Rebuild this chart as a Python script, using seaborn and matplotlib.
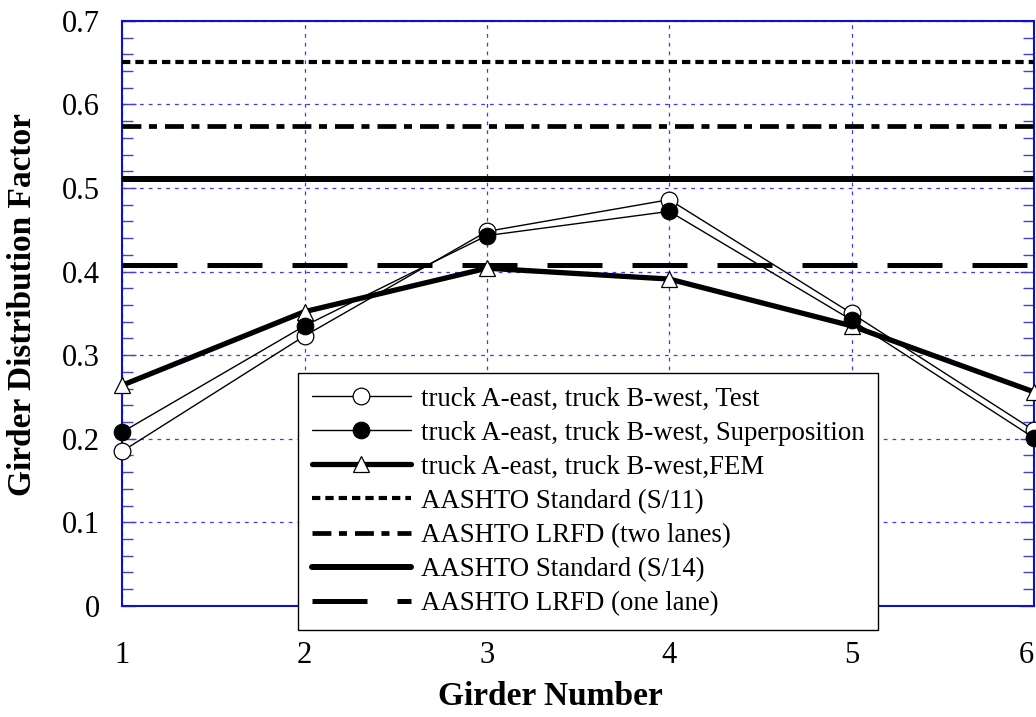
#!/usr/bin/env python3
import matplotlib
matplotlib.use("Agg")
import matplotlib.pyplot as plt
import seaborn as sns
import pandas as pd
from matplotlib.ticker import MultipleLocator

girders = [1, 2, 3, 4, 5, 6]
test = [0.185, 0.323, 0.448, 0.486, 0.350, 0.210]
superposition = [0.208, 0.335, 0.443, 0.472, 0.342, 0.201]
fem = [0.264, 0.352, 0.404, 0.391, 0.335, 0.256]

code_labels = ["AASHTO Standard (S/11)", "AASHTO LRFD (two lanes)",
               "AASHTO Standard (S/14)", "AASHTO LRFD (one lane)"]
code_values = [0.651, 0.574, 0.511, 0.408]

ytick_values = [0, 0.1, 0.2, 0.3, 0.4, 0.5, 0.6, 0.7]
ytick_labels = ["0", "0.1", "0.2", "0.3", "0.4", "0.5", "0.6", "0.7"]

sns.set_style("white")
plt.rcParams["font.family"] = ["Liberation Serif", "DejaVu Serif"]
plt.rcParams["text.color"] = "black"

df = pd.DataFrame({"girder": girders, "test": test, "sup": superposition, "fem": fem})

fig, ax = plt.subplots(figsize=(10.36, 7.17), dpi=100)
plt.subplots_adjust(left=0.118, right=0.998, top=0.971, bottom=0.155)

sns.lineplot(data=df, x="girder", y="test", ax=ax, color="black", lw=1.0,
             marker="o", markersize=12, markerfacecolor="white", markeredgecolor="black",
             markeredgewidth=0.9, label="truck A-east, truck B-west, Test", zorder=5, clip_on=False)
sns.lineplot(data=df, x="girder", y="sup", ax=ax, color="black", lw=1.0,
             marker="o", markersize=12, markerfacecolor="black", markeredgecolor="black",
             label="truck A-east, truck B-west, Superposition", zorder=5, clip_on=False)
sns.lineplot(data=df, x="girder", y="fem", ax=ax, color="black", lw=3.8,
             marker="^", markersize=12, markerfacecolor="white", markeredgecolor="black",
             markeredgewidth=0.9, label="truck A-east, truck B-west,FEM", zorder=4, clip_on=False)

styles = [dict(lw=3.0, dashes=(2.0, 1.2)),
          dict(lw=3.4, dashes=(4.0, 1.6, 1.7, 1.7)),
          dict(lw=4.3, linestyle="-"),
          dict(lw=3.6, dashes=(11, 6))]
for lab, val, st in zip(code_labels, code_values, styles):
    ax.axhline(val, color="black", label=lab, zorder=3, **st)

ax.set_xlim(1, 6)
ax.set_ylim(0, 0.7)
ax.set_yticks(ytick_values)
ax.set_yticklabels(ytick_labels)
ax.yaxis.set_minor_locator(MultipleLocator(0.02))
ax.set_xticks(girders)
ax.set_xticklabels([str(g) for g in girders])
ax.get_xticklabels()[-1].set_horizontalalignment("right")

ax.grid(True, which="major", color="#3a3aff", linestyle=(0, (3, 4)), lw=0.9)
for sp in ax.spines.values():
    sp.set_color("#1010c8")
    sp.set_linewidth(1.5)
ax.tick_params(axis="both", which="both", direction="in", colors="#4040e0",
               labelcolor="black", labelsize=22, left=True, right=True,
               bottom=True, top=False)
ax.tick_params(axis="y", which="major", length=10, width=1, pad=16)
ax.tick_params(axis="y", which="minor", length=8, width=1)
ax.tick_params(axis="x", which="major", length=0, pad=25)

ax.set_xlabel("Girder Number", fontsize=24, fontweight="bold", color="black")
ax.set_ylabel("Girder Distribution Factor", fontsize=24, fontweight="bold", color="black")
ax.xaxis.set_label_coords(0.47, -0.128)
ax.yaxis.set_label_coords(-0.092, 0.515)

leg = ax.legend(loc="upper left", bbox_to_anchor=(0.193, 0.398), fontsize=19.3,
                handlelength=3.7, handletextpad=0.37, labelspacing=0.34,
                borderpad=0.5, fancybox=False, framealpha=1, edgecolor="black",
                borderaxespad=0)
leg.get_frame().set_linewidth(1.0)
leg.set_zorder(10)
for t in leg.get_texts():
    t.set_color("black")

fig.savefig("out.png", dpi=100)
